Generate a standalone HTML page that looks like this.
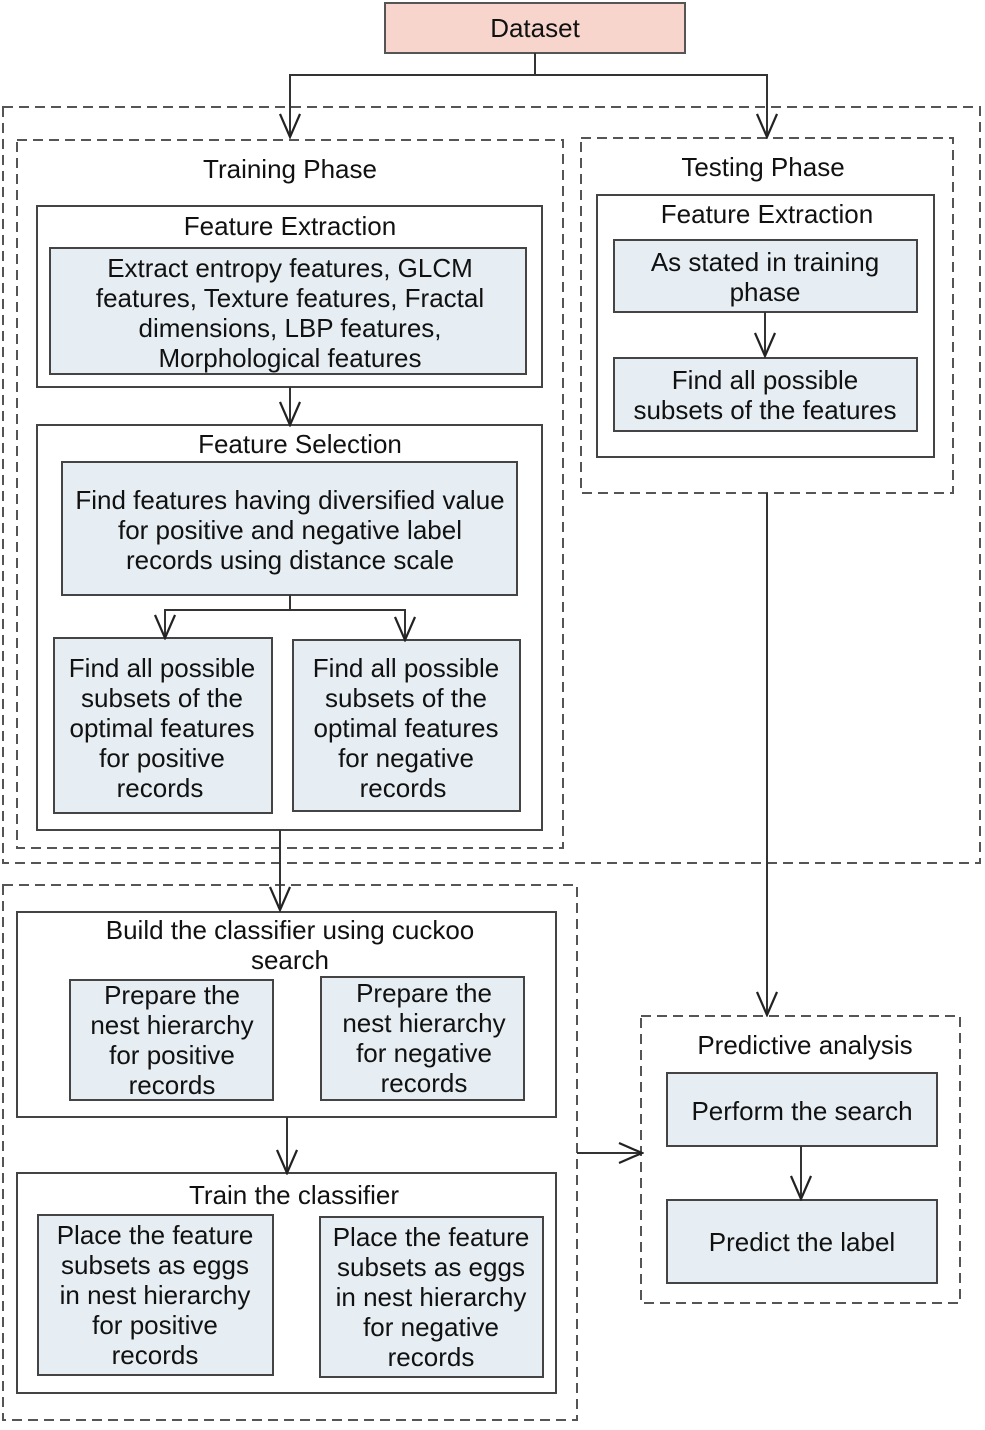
<!DOCTYPE html>
<html><head><meta charset="utf-8"><style>
body{margin:0;background:#fff}
svg text{font-family:"Liberation Sans",sans-serif;font-size:26px;fill:#111;text-anchor:middle}
</style></head><body>
<svg width="985" height="1425" viewBox="0 0 985 1425" xmlns="http://www.w3.org/2000/svg">
<defs>
<marker id="a" markerWidth="22" markerHeight="26" refX="11" refY="24" orient="0" markerUnits="userSpaceOnUse"><path d="M1,1 L11,24 L21,1" fill="none" stroke="#222" stroke-width="2.2"/></marker>
<marker id="r" markerWidth="26" markerHeight="22" refX="24" refY="11" orient="0" markerUnits="userSpaceOnUse"><path d="M1,1 L24,11 L1,21" fill="none" stroke="#222" stroke-width="2.2"/></marker>
</defs>
<g fill="none" stroke="#555" stroke-width="2" stroke-dasharray="10,6">
<rect x="3" y="107" width="977" height="756"/>
<rect x="17" y="140" width="546" height="708"/>
<rect x="581" y="138" width="372" height="355"/>
<rect x="3" y="885" width="574" height="535"/>
<rect x="641" y="1016" width="319" height="287"/>
</g>
<rect x="385" y="3" width="300" height="50" fill="#f7d5cc" stroke="#555" stroke-width="2"/>
<g fill="#fff" stroke="#444" stroke-width="2">
<rect x="37" y="206" width="505" height="181"/>
<rect x="37" y="425" width="505" height="405"/>
<rect x="597" y="195" width="337" height="262"/>
<rect x="17" y="912" width="539" height="205"/>
<rect x="17" y="1173" width="539" height="220"/>
</g>
<g fill="#e6eef3" stroke="#444" stroke-width="2">
<rect x="50" y="248" width="476" height="126"/>
<rect x="62" y="462" width="455" height="133"/>
<rect x="54" y="638" width="218" height="175"/>
<rect x="293" y="640" width="227" height="171"/>
<rect x="614" y="240" width="303" height="72"/>
<rect x="614" y="358" width="303" height="73"/>
<rect x="70" y="980" width="203" height="120"/>
<rect x="321" y="977" width="203" height="123"/>
<rect x="38" y="1215" width="235" height="160"/>
<rect x="320" y="1217" width="223" height="160"/>
<rect x="667" y="1073" width="270" height="73"/>
<rect x="667" y="1200" width="270" height="83"/>
</g>
<g fill="none" stroke="#333" stroke-width="2">
<path d="M535,53 V75 H290 V137" marker-end="url(#a)"/>
<path d="M535,75 H767 V137" marker-end="url(#a)"/>
<path d="M290,387 V425" marker-end="url(#a)"/>
<path d="M290,595 V610 H165 V638" marker-end="url(#a)"/>
<path d="M290,610 H405 V640" marker-end="url(#a)"/>
<path d="M765,312 V356" marker-end="url(#a)"/>
<path d="M767,493 V1015" marker-end="url(#a)"/>
<path d="M280,830 V910" marker-end="url(#a)"/>
<path d="M287,1117 V1173" marker-end="url(#a)"/>
<path d="M577,1153 H642" marker-end="url(#r)"/>
<path d="M801,1146 V1199" marker-end="url(#a)"/>
</g>
<text x="535" y="37">Dataset</text>
<text x="290" y="178">Training Phase</text>
<text x="763" y="176">Testing Phase</text>
<text x="290" y="235">Feature Extraction</text>
<text x="290" y="277">Extract entropy features, GLCM</text>
<text x="290" y="307">features, Texture features, Fractal</text>
<text x="290" y="337">dimensions, LBP features,</text>
<text x="290" y="367">Morphological features</text>
<text x="300" y="453">Feature Selection</text>
<text x="290" y="509">Find features having diversified value</text>
<text x="290" y="539">for positive and negative label</text>
<text x="290" y="569">records using distance scale</text>
<text x="162" y="677">Find all possible</text>
<text x="162" y="707">subsets of the</text>
<text x="162" y="737">optimal features</text>
<text x="162" y="767">for positive</text>
<text x="160" y="797">records</text>
<text x="406" y="677">Find all possible</text>
<text x="406" y="707">subsets of the</text>
<text x="406" y="737">optimal features</text>
<text x="406" y="767">for negative</text>
<text x="403" y="797">records</text>
<text x="767" y="223">Feature Extraction</text>
<text x="765" y="271">As stated in training</text>
<text x="765" y="301">phase</text>
<text x="765" y="389">Find all possible</text>
<text x="765" y="419">subsets of the features</text>
<text x="290" y="939">Build the classifier using cuckoo</text>
<text x="290" y="969">search</text>
<text x="172" y="1004">Prepare the</text>
<text x="172" y="1034">nest hierarchy</text>
<text x="172" y="1064">for positive</text>
<text x="172" y="1094">records</text>
<text x="424" y="1002">Prepare the</text>
<text x="424" y="1032">nest hierarchy</text>
<text x="424" y="1062">for negative</text>
<text x="424" y="1092">records</text>
<text x="294" y="1204">Train the classifier</text>
<text x="155" y="1244">Place the feature</text>
<text x="155" y="1274">subsets as eggs</text>
<text x="155" y="1304">in nest hierarchy</text>
<text x="155" y="1334">for positive</text>
<text x="155" y="1364">records</text>
<text x="431" y="1246">Place the feature</text>
<text x="431" y="1276">subsets as eggs</text>
<text x="431" y="1306">in nest hierarchy</text>
<text x="431" y="1336">for negative</text>
<text x="431" y="1366">records</text>
<text x="805" y="1054">Predictive analysis</text>
<text x="802" y="1120">Perform the search</text>
<text x="802" y="1251">Predict the label</text>
</svg>
</body></html>
